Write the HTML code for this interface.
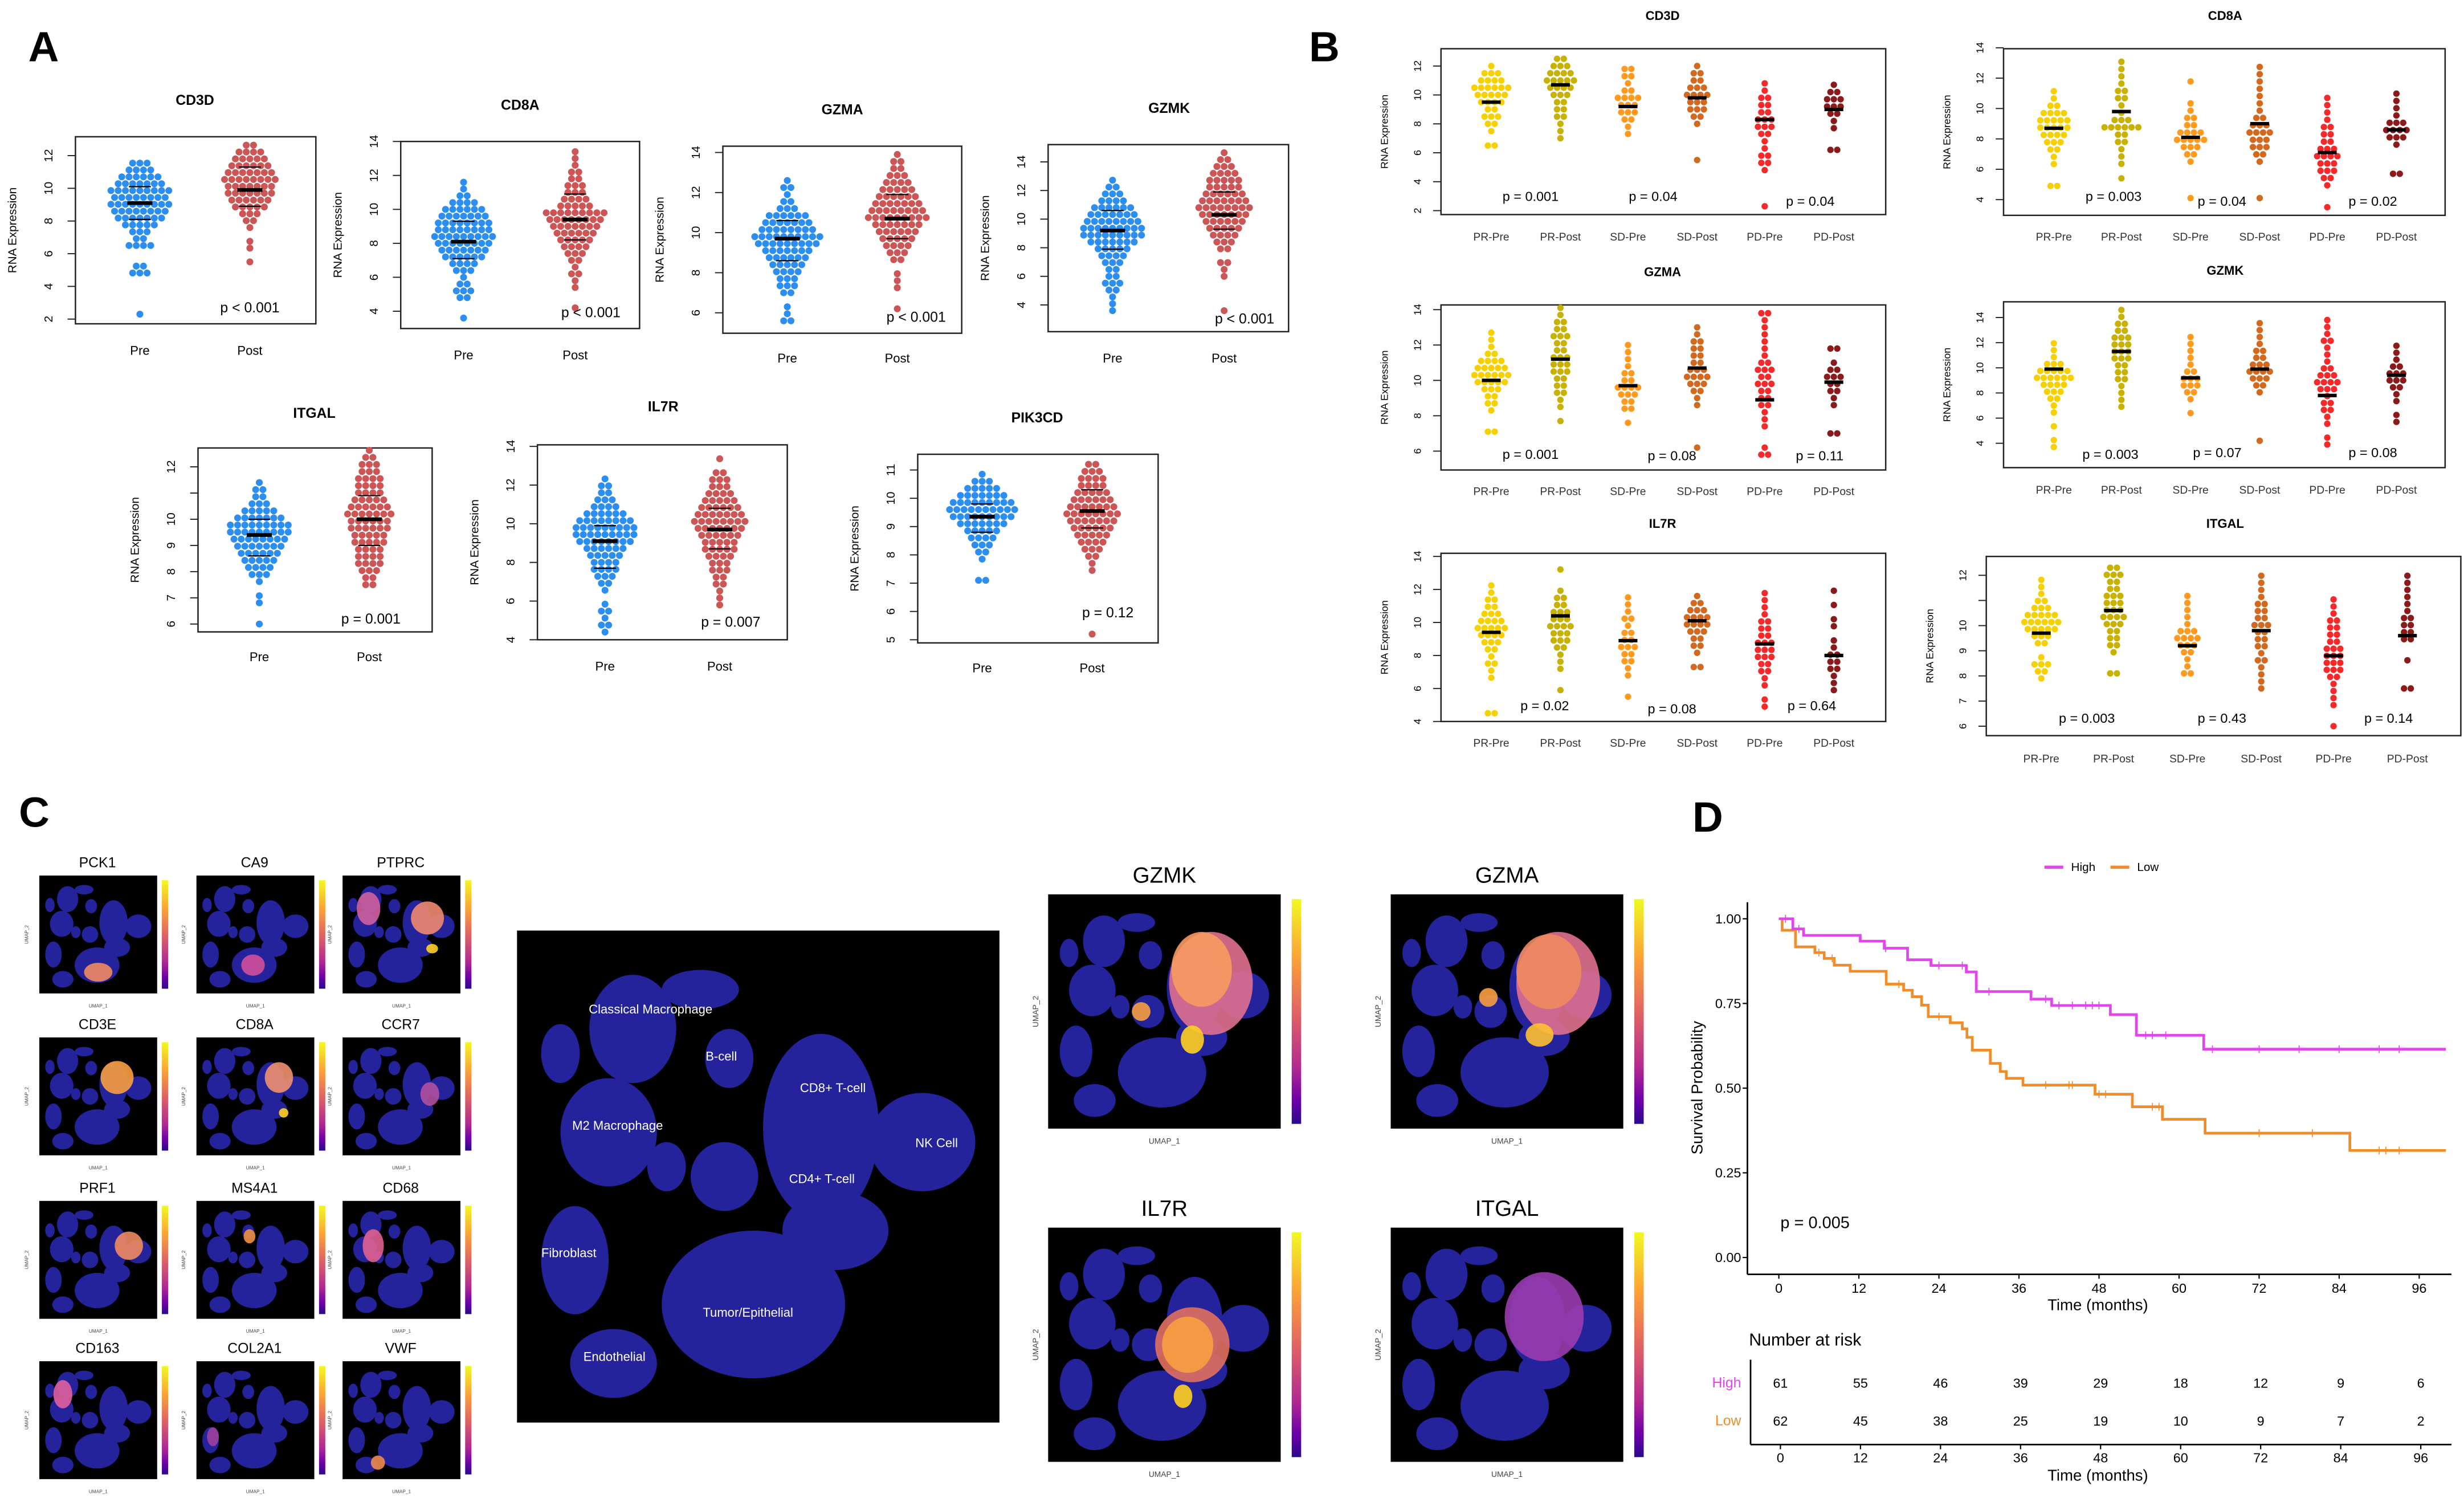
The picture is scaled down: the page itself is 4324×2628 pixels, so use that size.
<!DOCTYPE html>
<html><head><meta charset="utf-8">
<style>
html,body{margin:0;padding:0;background:#fff;}
svg{display:block;font-family:"Liberation Sans",Arial,sans-serif;}
</style></head>
<body>
<svg id="fig" xmlns="http://www.w3.org/2000/svg" width="4324" height="2628" viewBox="0 0 1568 953">
<defs>
<linearGradient id="plasma" x1="0" y1="0" x2="0" y2="1">
<stop offset="0" stop-color="#f0f921"/><stop offset="0.25" stop-color="#fca636"/><stop offset="0.5" stop-color="#e16462"/><stop offset="0.75" stop-color="#b12a90"/><stop offset="0.9" stop-color="#6a00a8"/><stop offset="1" stop-color="#2a0a8a"/>
</linearGradient>
</defs>
<text x="18" y="39" font-size="27" font-weight="bold">A</text>
<text x="833" y="39" font-size="27" font-weight="bold">B</text>
<text x="12" y="526" font-size="27" font-weight="bold">C</text>
<text x="1077" y="529" font-size="27" font-weight="bold">D</text>
</svg>
<script>
// ---------------- Panel A data ----------------
const aGenes = ['CD3D','CD8A','GZMA','GZMK','ITGAL','IL7R','PIK3CD'];
const aPValues = ['p < 0.001','p < 0.001','p < 0.001','p < 0.001','p = 0.001','p = 0.007','p = 0.12'];
const aGroupLabels = ['Pre','Post'];
const aStep = [0.42,0.4,0.35,0.48,0.27,0.36,0.25];
const aPreLo = [2.3,3.6,5.6,3.6,6.0,4.4,7.1];
const aPostLo = [5.5,4.2,6.2,3.6,7.5,5.8,5.2];
const aPreCounts = [
 [1,0,0,0,0,0,3,2,0,0,4,2,3,5,7,8,9,8,9,7,6,4,3],
 [1,0,0,2,3,2,1,3,4,6,7,8,9,8,8,7,6,4,2,1,1],
 [2,1,1,0,2,3,3,4,5,6,7,9,10,8,7,6,3,2,1,2,1],
 [1,1,1,2,3,2,2,3,4,5,7,9,9,8,7,6,4,3,2,1],
 [1,0,0,1,1,0,1,3,4,5,6,7,8,9,9,7,5,3,2,2,1],
 [1,2,1,2,1,0,1,2,3,4,4,5,6,8,9,9,8,6,4,3,2,2,1],
 [2,0,0,1,2,3,4,5,7,9,10,9,7,5,3,1]
];
const aPostCounts = [
 [1,0,1,1,0,1,2,3,5,6,7,7,8,7,6,5,4,2],
 [1,0,0,1,1,2,1,2,3,4,5,6,7,8,9,5,4,3,3,2,2,1,1,1],
 [1,0,0,1,1,1,0,2,3,4,5,6,7,9,8,7,6,5,4,3,2,2,1],
 [1,0,0,0,0,1,1,2,0,2,3,4,5,6,7,8,7,6,5,5,4,3,2,1],
 [2,2,3,4,4,4,5,5,6,6,7,6,5,4,4,4,3,3,2,1],
 [1,1,1,2,2,3,3,4,5,5,6,7,8,7,6,5,4,3,3,2,0,1],
 [1,0,0,0,0,0,0,0,0,1,1,2,3,4,5,6,7,8,7,6,5,4,4,3,2]
];
const aPreStats = [[9.1,8.1,10.1],[8.1,7.1,9.3],[9.7,8.6,10.6],[9.2,7.9,10.6],[9.4,8.6,10.0],[9.1,7.7,9.9],[9.35,8.8,9.8]];
const aPostStats = [[9.9,8.9,11.3],[9.4,8.2,10.9],[10.7,9.7,11.9],[10.3,9.3,11.9],[10.0,9.0,10.9],[9.7,8.7,10.8],[9.55,8.95,10.3]];
const aTicks = [[2,4,6,8,10,12],[4,6,8,10,12,14],[6,8,10,12,14],[4,6,8,10,12,14],[6,7,8,9,10,11,12],[4,6,8,10,12,14],[5,6,7,8,9,10,11]];

// ---------------- Panel B data ----------------
const bGenes = ['CD3D','CD8A','GZMA','GZMK','IL7R','ITGAL'];
const bGroups = ['PR-Pre','PR-Post','SD-Pre','SD-Post','PD-Pre','PD-Post'];
const bColors = ['#f7d000','#c9b100','#ff9a1f','#d2691e','#f5282a','#8b1a1a'];
const bPValues = [['p = 0.001','p = 0.04','p = 0.04'],['p = 0.003','p = 0.04','p = 0.02'],['p = 0.001','p = 0.08','p = 0.11'],['p = 0.003','p = 0.07','p = 0.08'],['p = 0.02','p = 0.08','p = 0.64'],['p = 0.003','p = 0.43','p = 0.14']];
const bStep = [0.5,0.48,0.4,0.55,0.43,0.28];
const bMedians = [[9.5,10.7,9.2,9.8,8.3,9.0],[8.7,9.8,8.1,9.0,7.1,8.6],[10.0,11.2,9.7,10.7,8.9,9.9],[9.9,11.3,9.2,9.9,7.8,9.4],[9.4,10.4,8.9,10.1,8.7,8.0],[9.7,10.6,9.2,9.8,8.8,9.6]];
const bLo = [[6.5,7.0,7.3,5.5,2.3,6.2],[4.9,5.4,4.1,4.1,3.5,5.7],[7.1,7.7,7.6,6.2,5.8,7.0],[3.7,6.9,6.4,4.2,3.9,5.7],[4.5,5.9,5.5,7.3,4.9,5.9],[7.9,8.1,8.1,7.5,6.0,7.5]];
const bCounts = [
 [[2,0,1,2,3,2,4,5,6,4,3,1],[1,1,1,2,2,2,3,4,5,4,3,2],[1,1,2,3,3,4,2,1,2,2],[1,0,0,0,0,1,2,3,3,4,3,2,2,1],[1,0,0,0,0,1,2,2,1,1,2,3,3,2,2,2,1,1],[2,0,0,1,1,2,3,3,2,1]],
 [[2,0,0,1,1,2,3,4,5,5,4,2,1,1],[1,0,1,1,1,2,2,6,3,1,1,2,2,1,1,1,1],[1,0,0,0,0,1,2,3,5,4,2,2,1,1,0,0,1],[1,0,0,0,0,1,2,3,3,4,3,2,1,1,1,1,1,1,1],[1,0,0,1,2,3,3,4,3,2,2,2,1,1,1,1],[2,0,0,0,1,3,4,3,1,1,1,1]],
 [[2,0,0,1,2,2,3,5,6,5,4,2,1,1,1],[1,0,1,1,2,2,2,3,3,3,2,2,3,2,2,1,1],[1,0,2,2,3,4,2,2,1,1,1,1],[1,0,0,0,0,0,1,1,2,3,4,3,2,2,2,2,1,1],[2,1,0,0,1,1,1,2,2,2,3,2,3,2,1,1,1,1,1,1,2],[2,0,0,0,1,1,2,2,3,2,1,0,2]],
 [[1,1,0,1,0,1,1,2,3,4,6,5,3,1,1,1],[1,1,1,1,2,2,2,3,3,3,3,2,2,1,1],[1,0,1,2,3,3,2,1,1,1,1,1],[1,0,0,0,0,0,0,1,2,3,4,3,2,2,1,1,1,1],[1,1,0,1,1,2,2,1,3,4,3,2,1,1,1,2,1,1,1],[1,1,0,1,1,2,3,3,2,1,1,1]],
 [[2,0,0,0,0,1,1,2,1,2,3,4,5,4,3,2,2,1,1],[1,0,0,1,1,1,2,3,3,4,3,3,2,2,1,0,0,1],[1,0,0,1,1,2,2,3,2,2,1,2,1,1,1],[2,0,1,2,2,3,4,4,3,2,1],[1,1,0,1,1,2,2,3,3,3,2,2,2,1,1,1,1],[1,1,1,2,2,2,1,1,0,1,1,0,1,0,1]],
 [[1,2,3,1,0,2,3,5,6,5,3,2,1,1,1],[2,0,0,1,2,2,2,3,4,3,3,3,2,2,3,2],[2,1,1,2,3,4,3,1,1,1,1,1],[1,1,1,1,2,1,2,2,2,3,2,2,2,1,1,1,1],[1,0,0,1,1,1,1,2,3,3,3,3,2,2,2,2,1,1,1],[2,0,0,0,1,0,0,2,2,2,2,1,1,1,1,1,1]]
];
const bTicks = [[2,4,6,8,10,12],[4,6,8,10,12,14],[6,8,10,12,14],[4,6,8,10,12,14],[4,6,8,10,12,14],[6,7,8,9,10,11,12]];

// ---------------- Panel C data ----------------
const cSmallGenes = ['PCK1','CA9','PTPRC','CD3E','CD8A','CCR7','PRF1','MS4A1','CD68','CD163','COL2A1','VWF'];
const cBigGenes = ['GZMK','GZMA','IL7R','ITGAL'];
const cClusterLabels = ['Classical Macrophage','B-cell','CD8+ T-cell','M2 Macrophage','NK Cell','CD4+ T-cell','Fibroblast','Tumor/Epithelial','Endothelial'];

// ---------------- Panel D data ----------------
const kmHighT = [0,2.1,3.7,12.2,15.8,19.3,22.8,28.1,29.6,37.8,40.9,49.7,53.6,63.7,100];
const kmHighS = [1,0.97,0.951,0.934,0.913,0.879,0.862,0.843,0.785,0.763,0.744,0.717,0.656,0.615,0.615];
const kmLowT = [0,0.5,2.5,5.4,6.8,8.3,10.7,16.1,18.7,20,21.4,22.4,25.7,27.5,28.2,29,31.7,33.2,34.1,36.6,47.4,53,57.5,63.9,85.6,100];
const kmLowS = [1,0.966,0.917,0.9,0.883,0.863,0.845,0.807,0.789,0.77,0.745,0.711,0.693,0.675,0.65,0.612,0.573,0.549,0.529,0.509,0.482,0.445,0.408,0.367,0.316,0.316];
const censorHigh = [1,3,16,24,27.5,31.5,40,42,44,46,47,48,55,56,58,65,72,78,84,90,93];
const censorLow = [6,8,18,24,40,43.5,44,48,49,56,57,72,80,90,91,93];
const riskTimes = [0,12,24,36,48,60,72,84,96];
const riskHigh = [61,55,46,39,29,18,12,9,6];
const riskLow = [62,45,38,25,19,10,9,7,2];
const survTicks = [0,0.25,0.5,0.75,1.0];
const survTickLabels = ['0.00','0.25','0.50','0.75','1.00'];

// ---------------- layouts (pixel positions) ----------------
const aLayout = [
 {x0:48,x1:201,y0:87,y1:206,tv:12,tp:99,bv:2,bp:203,gx:[89,159],tx:124,ty:64,ly:223,px:159,py:196},
 {x0:255,x1:407,y0:90,y1:209,tv:14,tp:90,bv:4,bp:198,gx:[295,366],tx:331,ty:67,ly:226,px:376,py:199},
 {x0:460,x1:612,y0:93,y1:212,tv:14,tp:97,bv:6,bp:199,gx:[501,571],tx:536,ty:70,ly:228,px:583,py:202},
 {x0:667,x1:820,y0:92,y1:211,tv:14,tp:103,bv:4,bp:194,gx:[708,779],tx:744,ty:69,ly:228,px:792,py:203},
 {x0:126,x1:275,y0:285,y1:402,tv:12,tp:297,bv:6,bp:397,gx:[165,235],tx:200,ty:263,ly:418,px:236,py:394},
 {x0:342,x1:501,y0:283,y1:407,tv:14,tp:284,bv:4,bp:407,gx:[385,458],tx:422,ty:259,ly:424,px:465,py:396},
 {x0:584,x1:737,y0:289,y1:409,tv:11,tp:299,bv:5,bp:407,gx:[625,695],tx:660,ty:266,ly:425,px:705,py:390}
];
const gxL = [949,993,1036,1080,1123,1167], gxR = [1307,1350,1394,1438,1481,1525];
const bLayout = [
 {x0:917,x1:1200,y0:31,y1:136.5,tv:12,tp:42,bv:2,bp:134,gx:gxL,tx:1058,ty:10,ly:151,pp:[[974,125],[1052,125],[1152,128]]},
 {x0:1275,x1:1556,y0:31,y1:137,tv:14,tp:30.4,bv:4,bp:127,gx:gxR,tx:1416,ty:10,ly:151,pp:[[1345,125],[1414,128],[1510,128]]},
 {x0:917,x1:1200,y0:194,y1:299,tv:14,tp:197,bv:6,bp:287,gx:gxL,tx:1058,ty:173,ly:313,pp:[[974,289],[1064,290],[1158,290]]},
 {x0:1275,x1:1556,y0:192,y1:297.5,tv:14,tp:202,bv:4,bp:282,gx:gxR,tx:1416,ty:172,ly:312,pp:[[1343,289],[1411,288],[1510,288]]},
 {x0:917,x1:1200,y0:352,y1:459,tv:14,tp:354,bv:4,bp:459,gx:gxL,tx:1058,ty:333,ly:473,pp:[[983,449],[1064,451],[1153,449]]},
 {x0:1264,x1:1566,y0:354,y1:468,tv:12,tp:366,bv:6,bp:462,gx:[1299,1345,1392,1439,1485,1532],tx:1416,ty:333,ly:483,pp:[[1328,457],[1414,457],[1520,457]]}
];

const NS = 'http://www.w3.org/2000/svg';
const svg = document.getElementById('fig');
function mk(tag, attrs, parent){
  const e = document.createElementNS(NS, tag);
  for (const k in attrs) e.setAttribute(k, attrs[k]);
  (parent || svg).appendChild(e);
  return e;
}
function yOf(L, v){ return L.bp + (v - L.bv) * (L.tp - L.bp) / (L.tv - L.bv); }

function drawText(x, y, str, size, name, opts){
  const t = mk('text', Object.assign({x:x, y:y, 'font-size':size, 'text-anchor':'middle', 'dominant-baseline':'central', fill:'#000'}, opts || {}));
  t.textContent = str;
  
  
  return t;
}

function drawFrame(L, g, name, ticks, tlOff, alOff, fs){
  const box = mk('rect', {x:L.x0, y:L.y0, width:L.x1-L.x0, height:L.y1-L.y0, fill:'none', stroke:'#222', 'stroke-width':0.9}, g);
  
  
  ticks.forEach(function(v){
    const y = yOf(L, v);
    const tk = mk('line', {x1:L.x0-5, x2:L.x0, y1:y, y2:y, stroke:'#222', 'stroke-width':0.7}, g);
    
    
    if (v === 11 && ticks.length === 7 && ticks[0] === 6) return;
    drawText(L.x0 - tlOff, y, String(v), fs, name + '-y-tick-label', {transform:'rotate(-90 ' + (L.x0 - tlOff) + ' ' + y + ')'});
  });
  const my = (L.y0 + L.y1) / 2;
  drawText(L.x0 - alOff, my, 'RNA Expression', fs, name + '-y-axis-title', {transform:'rotate(-90 ' + (L.x0 - alOff) + ' ' + my + ')'});
}

function drawSwarm(L, g, cx, lo, step, counts, color, d, r, name){
  counts.forEach(function(n, i){
    const v = lo + i * step;
    const y = yOf(L, v);
    for (let j = 0; j < n; j++){
      const c = mk('circle', {cx: cx + (j - (n - 1) / 2) * d, cy: y, r: r, fill: color}, g);
      
      
    }
  });
}
function drawBar(L, g, cx, v, half, w, color, name){
  const y = yOf(L, v);
  const b = mk('line', {x1:cx-half, x2:cx+half, y1:y, y2:y, stroke:color, 'stroke-width':w}, g);
  
  
}

// ---- Panel A ----
aGenes.forEach(function(gene, k){
  const L = aLayout[k];
  const g = mk('g', {});
  
  
  drawText(L.tx, L.ty, gene, 9, 'plot-title', {'font-weight':'bold'});
  drawFrame(L, g, 'a-' + gene.toLowerCase(), aTicks[k], 17, 40, 7.5);
  drawSwarm(L, g, L.gx[0], aPreLo[k], aStep[k], aPreCounts[k], '#2b8ef0', 4.6, 2.2, 'pre');
  drawSwarm(L, g, L.gx[1], aPostLo[k], aStep[k], aPostCounts[k], '#cc5555', 4.6, 2.2, 'post');
  [aPreStats[k], aPostStats[k]].forEach(function(s, gi){
    drawBar(L, g, L.gx[gi], s[0], 8, 2.4, '#000', 'median-bar');
    drawBar(L, g, L.gx[gi], s[1], 7, 0.8, '#000', 'quartile-bar');
    drawBar(L, g, L.gx[gi], s[2], 7, 0.8, '#000', 'quartile-bar');
  });
  aGroupLabels.forEach(function(lbl, gi){ drawText(L.gx[gi], L.ly, lbl, 8, 'x-tick-label'); });
  drawText(L.px, L.py, aPValues[k], 9, 'p-value-label');
});

// ---- Panel B ----
bGenes.forEach(function(gene, k){
  const L = bLayout[k];
  const g = mk('g', {});
  
  
  drawText(L.tx, L.ty, gene, 8, 'plot-title', {'font-weight':'bold'});
  drawFrame(L, g, 'b-' + gene.toLowerCase(), bTicks[k], 15, 36, 6.5);
  bGroups.forEach(function(grp, gi){
    drawSwarm(L, g, L.gx[gi], bLo[k][gi], bStep[k], bCounts[k][gi], bColors[gi], 4.3, 2.05, grp.toLowerCase());
    drawBar(L, g, L.gx[gi], bMedians[k][gi], 6, 2.2, '#000', 'median-bar');
    drawText(L.gx[gi], L.ly, grp, 7, 'x-tick-label', {fill:'#333'});
  });
  L.pp.forEach(function(p, pi){ drawText(p[0], p[1], bPValues[k][pi], 8.5, 'p-value-label'); });
});

// ---- Panel C ----
const blobs = [[24,20,9,11],[38,12,8,4],[44,26,5,6],[19,41,10,11],[9,25,4,6],[63,40,12,19],[84,43,11,10],[12,67,7,11],[49,76,19,15],[20,88,9,7],[43,50,7,7],[66,61,11,8],[31,48,4,5]];
const smallHL = [
 [[50,82,12,8,'#f08a60']],
 [[48,76,10,9,'#d0509a']],
 [[72,36,14,14,'#f08a70'],[22,28,10,14,'#d060a0'],[76,62,5,4,'#ffd020']],
 [[66,34,14,14,'#f8a040']],
 [[70,34,12,13,'#f09070'],[74,64,4,4,'#ffd020']],
 [[74,48,8,10,'#b050a0']],
 [[76,38,12,12,'#f08a60']],
 [[45,30,5,6,'#f09040']],
 [[26,38,9,14,'#e06090']],
 [[20,28,8,12,'#e060a0']],
 [[14,64,5,8,'#a040a0']],
 [[30,86,6,6,'#f08a50']]
];
const bigHL = [
 [[70,38,18,22,'#e07090'],[66,32,13,16,'#f89a60'],[62,62,5,6,'#ffd020'],[40,50,4,4,'#f8a040']],
 [[72,38,18,22,'#e07090'],[68,33,14,16,'#f08a60'],[64,60,6,5,'#ffc030'],[42,44,4,4,'#f8a040']],
 [[62,50,16,16,'#e07060'],[60,50,11,12,'#f8a040'],[58,72,4,5,'#ffd020']],
 [[66,38,17,19,'#9a3cb0']]
];
function drawUmap(x, y, w, h, hl, name, bar, axisFs){
  const g = mk('g', {});
  
  
  const bg = mk('rect', {x:x, y:y, width:w, height:h, fill:'#000'}, g);
  
  
  blobs.forEach(function(b){
    const e = mk('ellipse', {cx:x+b[0]*w/100, cy:y+b[1]*h/100, rx:b[2]*w/100, ry:b[3]*h/100, fill:'#24239c'}, g);
    
    
  });
  hl.forEach(function(b){
    const e = mk('ellipse', {cx:x+b[0]*w/100, cy:y+b[1]*h/100, rx:b[2]*w/100, ry:b[3]*h/100, fill:b[4], opacity:0.9}, g);
    
    
  });
  if (bar){
    const cb = mk('rect', {x:x+w+bar[0], y:y+3, width:bar[1], height:h-6, fill:'url(#plasma)'}, g);
    
    
    drawText(x + w/2, y + h + 8, 'UMAP_1', axisFs, 'umap-x-label', {fill:'#444'});
    drawText(x - 8, y + h/2, 'UMAP_2', axisFs, 'umap-y-label', {fill:'#444', transform:'rotate(-90 ' + (x-8) + ' ' + (y+h/2) + ')'});
  }
  return g;
}
const smallX = [25,125,218], smallY = [557,660,764,866];
cSmallGenes.forEach(function(gene, i){
  const x = smallX[i % 3], y = smallY[Math.floor(i / 3)];
  drawUmap(x, y, 75, 75, smallHL[i], 'umap-' + gene.toLowerCase(), [3,4], 3);
  drawText(x + 37, y - 8, gene, 9, 'umap-title');
});
drawUmap(329, 592, 307, 313, [], 'umap-clusters', null, 0);
const clusterPos = [[414,642],[459,672],[530,692],[393,716],[596,727],[523,750],[362,797],[476,835],[391,863]];
cClusterLabels.forEach(function(lbl, i){
  drawText(clusterPos[i][0], clusterPos[i][1], lbl, 8, 'cluster-label', {fill:'#fff'});
});
const bigPos = [[667,569],[885,569],[667,781],[885,781]];
cBigGenes.forEach(function(gene, i){
  drawUmap(bigPos[i][0], bigPos[i][1], 148, 149, bigHL[i], 'umap-' + gene.toLowerCase(), [7,6], 5);
  drawText(bigPos[i][0] + 74, bigPos[i][1] - 12, gene, 14, 'umap-title');
});

// ---- Panel D ----
const kmX = function(t){ return 1132 + t * 4.2448; };
const kmY = function(s){ return 800 - s * 215.5; };
(function(){
  const g = mk('g', {});
  
  
  const ya = mk('line', {x1:1112, x2:1112, y1:574, y2:810.7, stroke:'#000', 'stroke-width':1}, g);
  
  
  const xa = mk('line', {x1:1112, x2:1560, y1:810.7, y2:810.7, stroke:'#000', 'stroke-width':1}, g);
  
  
  survTicks.forEach(function(s, i){
    const y = kmY(s);
    const t = mk('line', {x1:1109, x2:1112, y1:y, y2:y, stroke:'#000', 'stroke-width':0.8}, g);
    
    
    drawText(1108, y, survTickLabels[i], 8.5, 'y-tick-label', {'text-anchor':'end'});
  });
  riskTimes.forEach(function(t){
    const x = kmX(t);
    const tk = mk('line', {x1:x, x2:x, y1:810.7, y2:813.5, stroke:'#000', 'stroke-width':0.8}, g);
    
    
    drawText(x, 819.5, String(t), 8.5, 'x-tick-label');
  });
  drawText(1335, 830, 'Time (months)', 10, 'x-axis-title');
  drawText(1080, 692, 'Survival Probability', 10, 'y-axis-title', {transform:'rotate(-90 1080 692)'});
  drawText(1133, 778, 'p = 0.005', 10.5, 'logrank-p-value', {'text-anchor':'start'});
  function curve(T, S, color, name, cens){
    let d = 'M' + kmX(T[0]) + ' ' + kmY(S[0]);
    for (let i = 1; i < T.length; i++){
      d += ' H' + kmX(T[i]) + ' V' + kmY(S[i]);
    }
    const p = mk('path', {d:d, fill:'none', stroke:color, 'stroke-width':1.7}, g);
    
    
    cens.forEach(function(t){
      let s = S[0];
      for (let i = 0; i < T.length; i++){ if (T[i] <= t) s = S[i]; }
      const c = mk('line', {x1:kmX(t), x2:kmX(t), y1:kmY(s)-2.5, y2:kmY(s)+2.5, stroke:color, 'stroke-width':0.6}, g);
      
      
    });
  }
  curve(kmLowT, kmLowS, '#f28c28', 'low', censorLow);
  curve(kmHighT, kmHighS, '#e444ee', 'high', censorHigh);
  const l1 = mk('line', {x1:1301, x2:1313, y1:551.7, y2:551.7, stroke:'#e444ee', 'stroke-width':2}, g);
  
  
  drawText(1318, 551.7, 'High', 7.5, 'legend-high-label', {'text-anchor':'start'});
  const l2 = mk('line', {x1:1343, x2:1355, y1:551.7, y2:551.7, stroke:'#f28c28', 'stroke-width':2}, g);
  
  
  drawText(1360, 551.7, 'Low', 7.5, 'legend-low-label', {'text-anchor':'start'});
  drawText(1113, 852.5, 'Number at risk', 11, 'risk-table-title', {'text-anchor':'start'});
  const ra = mk('line', {x1:1114, x2:1114, y1:865, y2:919, stroke:'#000', 'stroke-width':1}, g);
  
  
  const rx = mk('line', {x1:1114, x2:1560, y1:919, y2:919, stroke:'#000', 'stroke-width':1}, g);
  
  
  drawText(1108, 880, 'High', 9, 'risk-row-label-high', {'text-anchor':'end', fill:'#e444ee'});
  drawText(1108, 904, 'Low', 9, 'risk-row-label-low', {'text-anchor':'end', fill:'#f28c28'});
  riskTimes.forEach(function(t, i){
    const x = kmX(t) + 1;
    drawText(x, 880, String(riskHigh[i]), 8.5, 'risk-count-high');
    drawText(x, 904, String(riskLow[i]), 8.5, 'risk-count-low');
    const tk = mk('line', {x1:x, x2:x, y1:919, y2:922, stroke:'#000', 'stroke-width':0.8}, g);
    
    
    drawText(x, 927.5, String(t), 8.5, 'risk-x-tick-label');
  });
  drawText(1335, 938.5, 'Time (months)', 10, 'risk-x-axis-title');
})();
</script>
</body></html>
